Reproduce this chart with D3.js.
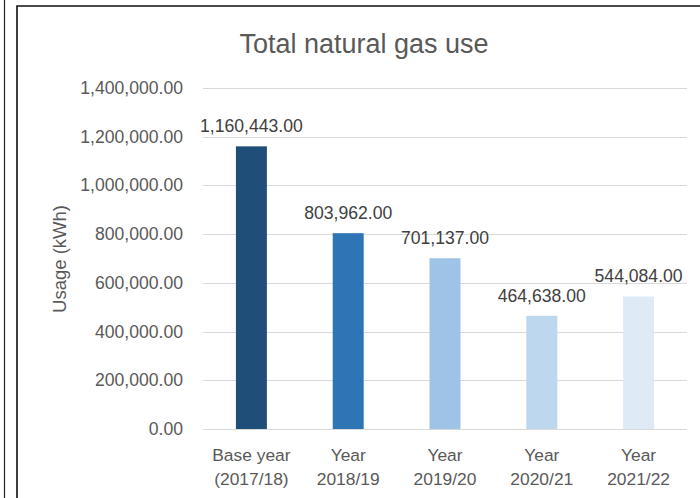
<!DOCTYPE html>
<html>
<head>
<meta charset="utf-8">
<script src="https://cdn.jsdelivr.net/npm/d3@7"></script>
<style>
  body { margin: 0; background: #fff; }
  svg { display: block; font-family: "Liberation Sans", Arial, sans-serif; }
</style>
</head>
<body>
<div id="chart"></div>
<script>
var categories = [["Base year", "(2017/18)"], ["Year", "2018/19"], ["Year", "2019/20"], ["Year", "2020/21"], ["Year", "2021/22"]];
var usage = [1160443, 803962, 701137, 464638, 544084];
var barColors = ["#1f4e79", "#2e75b6", "#9dc3e6", "#bdd7ee", "#deebf7"];
var yTicks = [0, 200000, 400000, 600000, 800000, 1000000, 1200000, 1400000];

var width = 700,
    height = 498;

var svg = d3.select("#chart")
    .append("svg")
    .attr("width", width)
    .attr("height", height)

// outer frame lines
svg.append("line")
    .attr("x1", 4.5).attr("x2", 4.5)
    .attr("y1", 0).attr("y2", height)
    .attr("stroke", "#222").attr("stroke-width", 1.2)

svg.append("path")
    .attr("d", "M17,498 L17,6 L700,6")
    .attr("fill", "none")
    .attr("stroke", "#111").attr("stroke-width", 1.6)

var x = d3.scaleBand()
    .domain(d3.range(usage.length))
    .range([203, 687])
    .paddingInner(0.68)
    .paddingOuter(0.34)

var y = d3.scaleLinear()
    .domain([0, 1400000])
    .range([429, 88])

var fmt = d3.format(",.2f")

// gridlines
svg.append("g")
    .selectAll("line")
    .data(yTicks)
    .enter().append("line")
    .attr("x1", 203)
    .attr("x2", 687)
    .attr("y1", function(d) { return Math.round(y(d)) + 0.5 })
    .attr("y2", function(d) { return Math.round(y(d)) + 0.5 })
    .attr("stroke", "#d9d9d9")
    .attr("stroke-width", 1)

// y tick labels
svg.append("g")
    .selectAll("text")
    .data(yTicks)
    .enter().append("text")
    .attr("x", 183)
    .attr("y", function(d) { return y(d) + 6 })
    .attr("text-anchor", "end")
    .attr("font-size", 17.6)
    .attr("fill", "#595959")
    .text(function(d) { return fmt(d) })

// bars
svg.append("g")
    .selectAll("rect")
    .data(usage)
    .enter().append("rect")
    .attr("x", function(d, i) { return x(i) })
    .attr("width", x.bandwidth())
    .attr("y", function(d) { return y(d) })
    .attr("height", function(d) { return y(0) - y(d) })
    .attr("fill", function(d, i) { return barColors[i] })

// value labels
svg.append("g")
    .selectAll("text")
    .data(usage)
    .enter().append("text")
    .attr("x", function(d, i) { return x(i) + x.bandwidth() / 2 })
    .attr("y", function(d) { return y(d) - 14 })
    .attr("text-anchor", "middle")
    .attr("font-size", 17.6)
    .attr("fill", "#404040")
    .text(function(d) { return fmt(d) })

// category labels
var cat = svg.append("g")
    .selectAll("text")
    .data(categories)
    .enter().append("text")
    .attr("text-anchor", "middle")
    .attr("font-size", 17.4)
    .attr("fill", "#595959")

cat.selectAll("tspan")
    .data(function(d, i) { return d.map(function(s, j) { return { s: s, i: i, j: j } }) })
    .enter().append("tspan")
    .attr("x", function(d) { return x(d.i) + x.bandwidth() / 2 })
    .attr("y", function(d) { return 461 + d.j * 24 })
    .text(function(d) { return d.s })

// title
svg.append("text")
    .attr("x", 364)
    .attr("y", 53)
    .attr("text-anchor", "middle")
    .attr("font-size", 27)
    .attr("fill", "#595959")
    .text("Total natural gas use")

// y axis title
svg.append("text")
    .attr("transform", "translate(66,259) rotate(-90)")
    .attr("text-anchor", "middle")
    .attr("font-size", 18.5)
    .attr("fill", "#595959")
    .text("Usage (kWh)")
</script>
</body>
</html>
